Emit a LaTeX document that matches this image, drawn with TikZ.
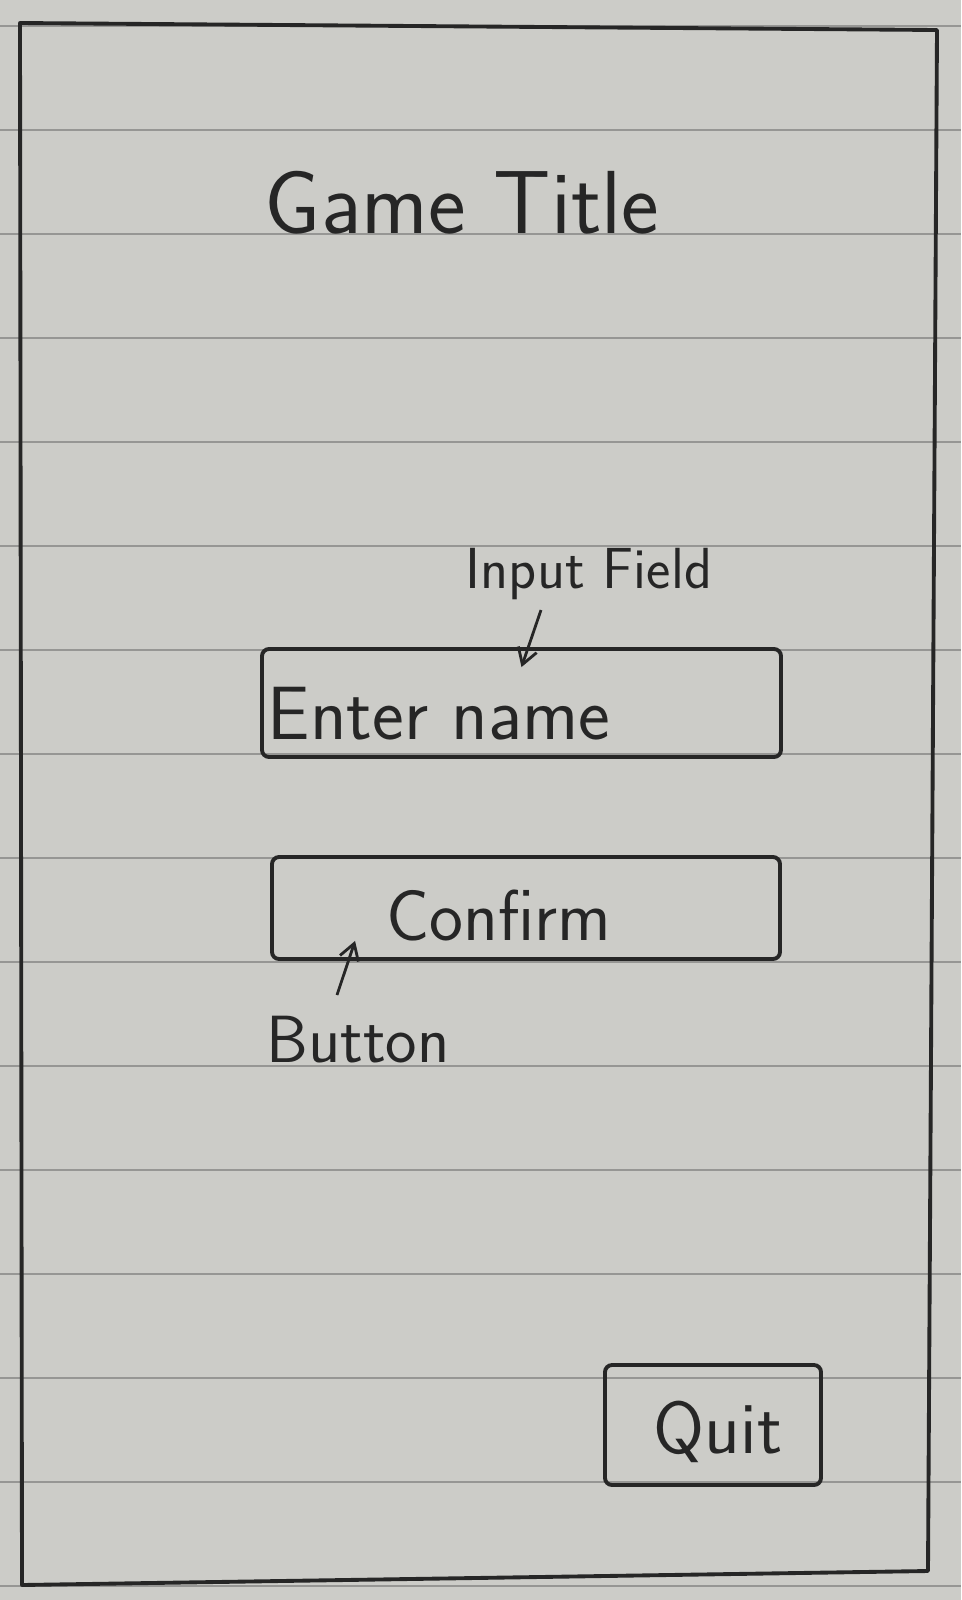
\documentclass[tikz,border=0pt]{standalone}
\usetikzlibrary{arrows.meta,fit}
\definecolor{paper}{RGB}{204,204,200}
\definecolor{rule}{RGB}{150,150,148}
\definecolor{ink}{RGB}{38,38,38}

\begin{document}
\begin{tikzpicture}[x=0.02cm, y=-0.02cm, ink, line width=2.2pt, line join=round,
  box/.style={draw, rounded corners=4pt, inner sep=0pt},
  hand/.style={font=\sffamily\fontsize{#1}{#1}\selectfont, inner sep=0pt},
  pointer/.style={-{Straight Barb[length=9pt,width=11pt]}, line width=1.6pt}]
\fill[paper] (0,0) rectangle (961,1600);
\useasboundingbox (0,0) rectangle (961,1600);
%Ruled paper
\foreach \k in {-1,...,14}
  \draw[rule, line width=1.1pt] (0,130+104*\k) -- (961,130+104*\k);
%Screen frame
\draw (20,23) -- (937,30) -- (928,1571) -- (22,1585) -- cycle;
%Title
\node[hand=51] (title) at (462,203) {Game Title};
%Input field
\node[box, fit={(262,649) (781,757)}] (inputbox) {};
\node[hand=43, anchor=west] (entername) at (266,714) {Enter name};
\node[hand=33] (fieldlabel) at (589,574) {Input Field};
\coordinate (fieldtail) at (541,610);
\draw[pointer] (fieldtail) -- ([yshift=-0.4cm]inputbox.north);
%Button
\node[box, fit={(272,857) (780,959)}] (confirmbox) {};
\node[hand=41] (confirm) at (499,915) {Confirm};
\node[hand=38] (buttonlabel) at (358,1040) {Button};
\coordinate (buttontail) at (337,995);
\draw[pointer] (buttontail) -- ([shift={(1.7cm,0.4cm)}]confirmbox.south west);
%Quit
\node[box, fit={(605,1365) (821,1485)}] (quitbox) {};
\node[hand=42] (quit) at (718,1432) {Quit};
\end{tikzpicture}
\end{document}
